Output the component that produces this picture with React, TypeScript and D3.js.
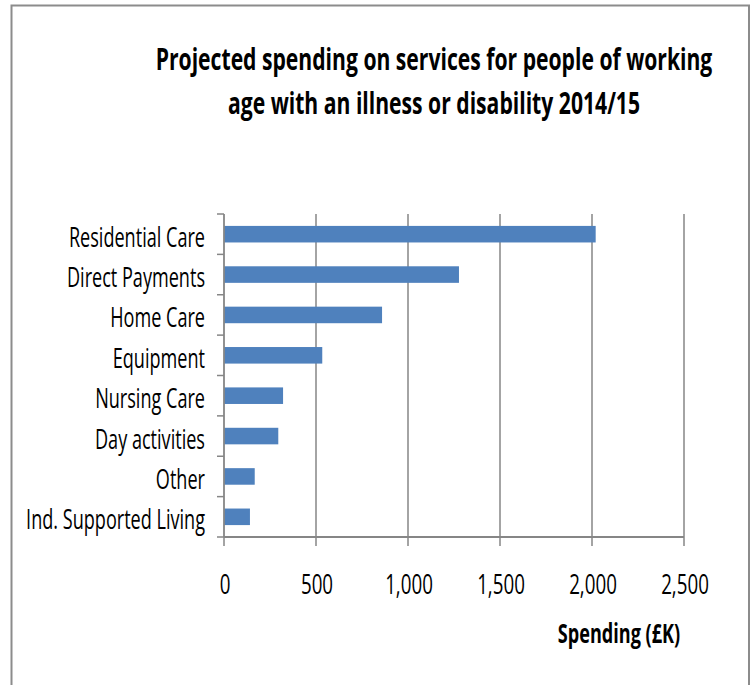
import React from "react";
import * as d3 from "d3";

const categories = [
  "Residential Care",
  "Direct Payments",
  "Home Care",
  "Equipment",
  "Nursing Care",
  "Day activities",
  "Other",
  "Ind. Supported Living",
];
const spending = [2020, 1277, 859, 534, 321, 295, 167, 141];
const xTicks = [0, 500, 1000, 1500, 2000, 2500];
const titleLines = [
  "Projected spending on services for people of working",
  "age with an illness or disability 2014/15",
];
const xAxisTitle = "Spending (£K)";

const W = 754;
const H = 685;
const FONT = "'Open Sans', 'Noto Sans', sans-serif";
const SX = 0.67;
const TSX = 0.705;
const GRID = "#868686";
const BAR = "#4f81bd";

export default function App() {
  const x = d3.scaleLinear().domain([0, 2500]).range([224, 684]);
  const y = d3
    .scaleBand<string>()
    .domain(categories)
    .range([214, 537])
    .paddingInner(0.59)
    .paddingOuter(0.295);
  const step = y.step();
  const bounds = d3.range(categories.length + 1).map((i) => 214 + i * step);
  const fmt = d3.format(",");

  return (
    <svg
      width={W}
      height={H}
      style={{ position: "absolute", left: 0, top: 0, background: "#fff" }}
    >
      <rect x={0} y={0} width={W} height={H} fill="#fff" />
      <rect
        x={11.5}
        y={5.5}
        width={737.5}
        height={H + 10}
        fill="none"
        stroke="#8c8c8c"
        strokeWidth={2}
      />
      {titleLines.map((t, i) => (
        <g key={t} transform={`translate(434,${70 + i * 44}) scale(${TSX},1)`}>
          <text
            textAnchor="middle"
            fontFamily={FONT}
            fontWeight="bold"
            fontSize={30}
            fill="#000"
          >
            {t}
          </text>
        </g>
      ))}
      {/* gridlines */}
      {xTicks.slice(1).map((v) => (
        <line
          key={"g" + v}
          x1={x(v)}
          x2={x(v)}
          y1={214}
          y2={537}
          stroke={GRID}
          strokeWidth={1.5}
        />
      ))}
      {/* bars */}
      {categories.map((c, i) => (
        <rect
          key={c}
          x={x(0)}
          y={y(c)!}
          width={x(spending[i]) - x(0)}
          height={y.bandwidth()}
          fill={BAR}
        />
      ))}
      {/* y axis */}
      <line x1={x(0)} x2={x(0)} y1={214} y2={537} stroke={GRID} strokeWidth={1.8} />
      {bounds.map((b, i) => (
        <line key={"yt" + i} x1={x(0) - 7} x2={x(0)} y1={b} y2={b} stroke={GRID} strokeWidth={1.5} />
      ))}
      {/* x axis */}
      <line x1={x(0)} x2={x(2500)} y1={537} y2={537} stroke={GRID} strokeWidth={1.8} />
      {xTicks.map((v) => (
        <line key={"xt" + v} x1={x(v)} x2={x(v)} y1={537} y2={546} stroke={GRID} strokeWidth={1.5} />
      ))}
      {xTicks.map((v) => (
        <g key={"xl" + v} transform={`translate(${x(v) + 1},594) scale(${SX},1)`}>
          <text textAnchor="middle" fontFamily={FONT} fontSize={28} fill="#000">
            {fmt(v)}
          </text>
        </g>
      ))}
      {categories.map((c) => (
        <g
          key={"cl" + c}
          transform={`translate(205,${y(c)! + y.bandwidth() / 2 + 12.5}) scale(${SX},1)`}
        >
          <text textAnchor="end" fontFamily={FONT} fontSize={27} fill="#000">
            {c}
          </text>
        </g>
      ))}
      <g transform={`translate(619,643) scale(${SX},1)`}>
        <text textAnchor="middle" fontFamily={FONT} fontWeight="bold" fontSize={27} fill="#000">
          {xAxisTitle}
        </text>
      </g>
    </svg>
  );
}
